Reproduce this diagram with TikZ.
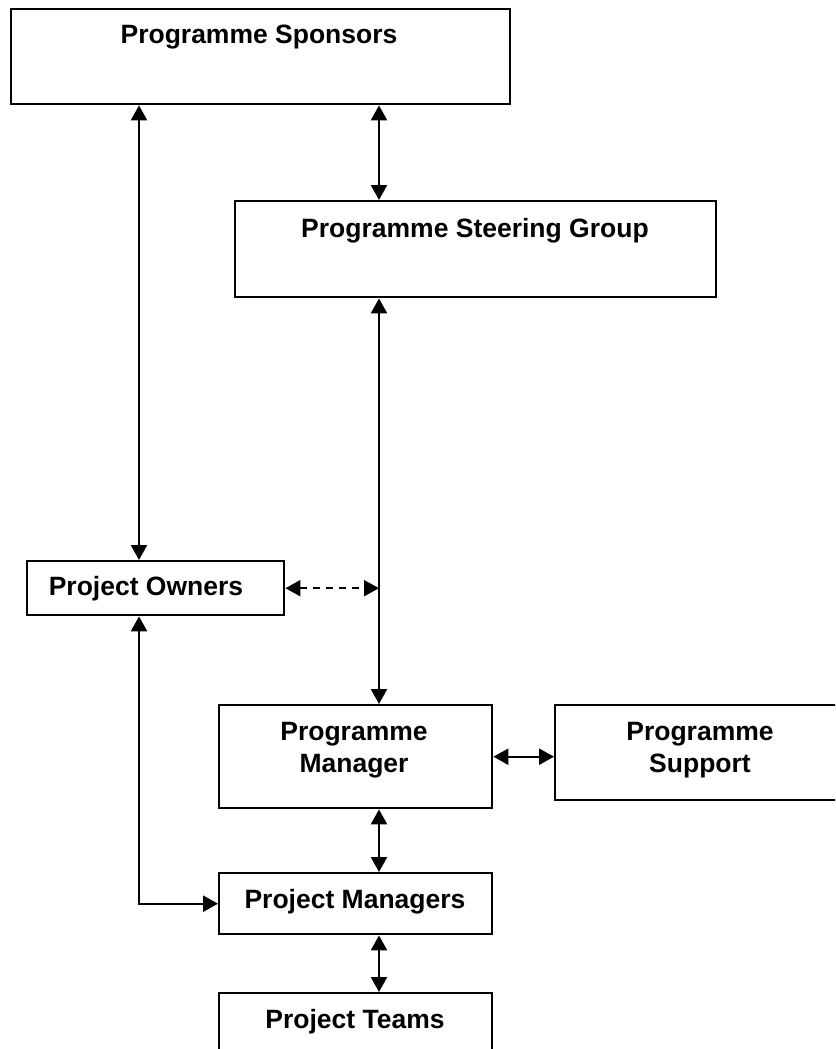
\documentclass[tikz,border=0pt]{standalone}
\usepackage{fontspec}
\setmainfont{Liberation Sans}
\usetikzlibrary{arrows.meta}
\begin{document}
\begin{tikzpicture}[x=1pt,y=1pt,
  box/.style={draw=black, line width=2.4pt, rectangle, anchor=north west, inner sep=0pt, fill=white},
  lbl/.style={font=\bfseries\fontsize{26.5}{32}\selectfont, align=center, anchor=base, inner sep=0pt},
  tip/.style={Triangle[length=15pt,width=16pt]},
  dbl/.style={line width=2.4pt, {Triangle[length=15pt,width=16pt]}-{Triangle[length=15pt,width=16pt]}},
  dsh/.style={line width=1.8pt, dash pattern=on 7pt off 6pt, {Triangle[length=15pt,width=16pt]}-{Triangle[length=15pt,width=16pt]}}
]
\clip (0,0) rectangle (835,-1049);
\fill[white] (0,0) rectangle (835,-1049);
% boxes
\node[box, minimum width=499pt, minimum height=95pt] (sp) at (10,-8) {};
\node[box, minimum width=481pt, minimum height=96pt] (sg) at (234,-200) {};
\node[box, minimum width=257pt, minimum height=54pt] (po) at (26,-560) {};
\node[box, minimum width=273pt, minimum height=103pt] (pm) at (218,-704) {};
\node[box, minimum width=300pt, minimum height=95pt] (ps) at (554,-704) {};
\node[box, minimum width=273pt, minimum height=61pt] (pms) at (218,-872) {};
\node[box, minimum width=273pt, minimum height=80pt] (pt) at (218,-992) {};
% labels
\node[lbl] (tsp) at (259,-44) {Programme Sponsors};
\node[lbl] (tsg) at (475,-237) {Programme Steering Group};
\node[lbl] (tpo) at (146,-595) {Project Owners};
\node[lbl] (tpm) at (354,-772) {Programme\\Manager};
\node[lbl] (tps) at (700,-772) {Programme\\Support};
\node[lbl] (tpms) at (355,-908) {Project Managers};
\node[lbl] (tpt) at (355,-1028) {Project Teams};
% connector columns
\coordinate (xL) at (139,0);
\coordinate (xM) at (379,0);
% connectors
\draw[dbl] (sp.south -| xL) -- (po.north -| xL);
\draw[dbl] (sp.south -| xM) -- (sg.north -| xM);
\draw[dbl] (sg.south -| xM) -- (pm.north -| xM);
\draw[dsh] (po.east) -- (po.east -| xM);
\draw[dbl] (po.south -| xL) -- (xL |- pms.west) -- (pms.west);
\draw[dbl] (pm.east) -- (pm.east -| ps.west);
\draw[dbl] (pm.south -| xM) -- (pms.north -| xM);
\draw[dbl] (pms.south -| xM) -- (pt.north -| xM);
\end{tikzpicture}
\end{document}
